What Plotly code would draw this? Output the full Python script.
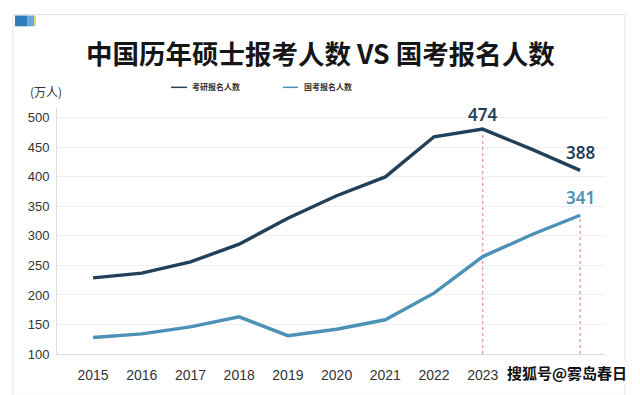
import plotly.graph_objects as go

years = [2015, 2016, 2017, 2018, 2019, 2020, 2021, 2022, 2023, 2024, 2025]
tick_years = [2015, 2016, 2017, 2018, 2019, 2020, 2021, 2022, 2023]
kaoyan = [229, 237, 256, 286, 330, 368, 400, 468, 481, 447, 411]
guokao = [128, 134, 146, 163, 131, 142, 158, 203, 265, 302, 335]
kaoyan_name = "考研报名人数"
guokao_name = "国考报名人数"
label_kaoyan = {2023: "474", 2025: "388"}
label_guokao = {2025: "341"}
drop_lines = [(2023, 481), (2025, 335)]

DARK = "#22405a"
LIGHT = "#4d91b7"
FONT = "Liberation Sans, Arial, sans-serif"
CJK = "Noto Sans CJK SC, sans-serif"

fig = go.Figure()

for xv, yv in drop_lines:
    fig.add_trace(go.Scatter(x=[xv, xv], y=[100, yv], mode="lines",
                             line=dict(color="#e07a7a", width=1, dash="dot"),
                             showlegend=False, hoverinfo="skip"))

fig.add_trace(go.Scatter(x=years, y=guokao, mode="lines", name=guokao_name,
                         line=dict(color=LIGHT, width=3.4), showlegend=False))
fig.add_trace(go.Scatter(x=years, y=kaoyan, mode="lines", name=kaoyan_name,
                         line=dict(color=DARK, width=3.4), showlegend=False))

ann = []
for i, y in enumerate(years):
    if y in label_kaoyan:
        ann.append(dict(x=y, y=kaoyan[i], xref="x", yref="y", text=label_kaoyan[y],
                        showarrow=False, yshift=15 if y == 2023 else 18,
                        font=dict(family="Noto Sans, sans-serif", size=17, color=DARK, weight=600)))
    if y in label_guokao:
        ann.append(dict(x=y, y=guokao[i], xref="x", yref="y", text=label_guokao[y],
                        showarrow=False, yshift=18,
                        font=dict(family="Noto Sans, sans-serif", size=17, color=LIGHT, weight=600)))

# title, unit, legend, watermark (pixel positions converted below)
ann.append(dict(x=320, y=52, xref="paper", yref="paper", text="<b>中国历年硕士报考人数 VS 国考报名人数</b>",
                showarrow=False, font=dict(family=CJK, size=26.5, color="#161616")))
ann.append(dict(x=46, y=91, xref="paper", yref="paper", text="(万人)", showarrow=False,
                font=dict(family=CJK, size=12, color="#333333")))
ann.append(dict(x=190, y=86, xref="paper", yref="paper", text="<b>" + kaoyan_name + "</b>",
                showarrow=False, xanchor="left", font=dict(family=CJK, size=8, color="#333333")))
ann.append(dict(x=302, y=86, xref="paper", yref="paper", text="<b>" + guokao_name + "</b>",
                showarrow=False, xanchor="left", font=dict(family=CJK, size=8, color="#333333")))
ann.append(dict(x=628, y=377, xref="paper", yref="paper", text="<b>搜狐号@雾岛春日</b>",
                showarrow=False, xanchor="right", bgcolor="rgba(255,255,255,0.85)", borderpad=0,
                font=dict(family=CJK, size=15, color="#111111")))

W, H = 640, 395
L, R, T, B = 57, 35, 108, 37
pw, ph = W - L - R, H - T - B
for a in ann:
    if a["xref"] == "paper":
        a["x"] = (a["x"] - L) / pw
        a["y"] = 1 - (a["y"] - T) / ph
        a.setdefault("xanchor", "center")
        a["yanchor"] = "middle"

def px_shape(x0, y0, x1, y1, **kw):
    return dict(xref="paper", yref="paper",
                x0=(x0 - L) / pw, x1=(x1 - L) / pw,
                y0=1 - (y0 - T) / ph, y1=1 - (y1 - T) / ph, layer="below", **kw)

shapes = [
    px_shape(13, 13, 625, 400, type="rect", line=dict(color="#e6e6e6", width=1), fillcolor="rgba(0,0,0,0)"),
    px_shape(15, 14, 27, 25, type="rect", line=dict(width=0), fillcolor="#2f7dbb"),
    px_shape(27, 14, 34, 25, type="rect", line=dict(width=0), fillcolor="#6aa8d8"),
    px_shape(34, 14, 36, 25, type="rect", line=dict(width=0), fillcolor="#e8d87a"),
    px_shape(171, 87, 187, 87, type="line", line=dict(color=DARK, width=1.5)),
    px_shape(283, 87, 298, 87, type="line", line=dict(color=LIGHT, width=1.5)),
]

fig.update_layout(
    width=W, height=H,
    margin=dict(l=L, r=R, t=T, b=B),
    paper_bgcolor="white", plot_bgcolor="white",
    annotations=ann, shapes=shapes,
    xaxis=dict(range=[2014.26, 2025.51], tickvals=tick_years, ticktext=[str(y) for y in tick_years],
               showgrid=False, zeroline=False, showline=True, linecolor="#dcdcdc", linewidth=1,
               ticks="", ticklabelstandoff=8,
               tickfont=dict(family=FONT, size=14, color="#333333")),
    yaxis=dict(range=[100, 516.7], tickvals=[100, 150, 200, 250, 300, 350, 400, 450, 500],
               showgrid=True, gridcolor="#efefef", gridwidth=1, zeroline=False,
               showline=True, linecolor="#dcdcdc", linewidth=1, ticks="", ticklabelstandoff=4,
               tickfont=dict(family=FONT, size=13, color="#333333")),
    showlegend=False,
)

fig.write_html("out.html", config={"displayModeBar": False},
               post_script="document.body.style.margin='0';document.body.style.overflow='hidden';")
